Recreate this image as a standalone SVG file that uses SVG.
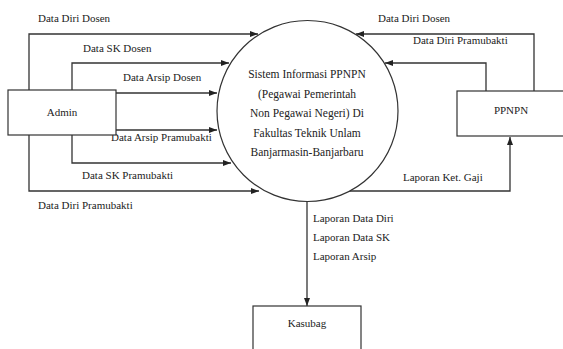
<svg xmlns="http://www.w3.org/2000/svg" width="563" height="349" viewBox="0 0 563 349">
<defs>
<marker id="arr" viewBox="0 0 8 6" refX="8" refY="3" markerWidth="8" markerHeight="6" markerUnits="userSpaceOnUse" orient="auto">
<path d="M0,0 L8,3 L0,6 Z" fill="#222"/>
</marker>
<style>
text{font-family:'Liberation Serif','Times New Roman',Times,serif;font-size:11px;fill:#222}
.c{text-anchor:middle}
.ct{font-size:11.5px;text-anchor:middle}
.n{fill:#fff;stroke:#333;stroke-width:1.2}
.l{fill:none;stroke:#333;stroke-width:1.3}
.a{marker-end:url(#arr)}
</style>
</defs>
<rect width="563" height="349" fill="#fff"/>
<g id="connectors" font-family="Liberation Serif, serif">
<path class="l a" d="M29,90 V34 H258"/>
<path class="l a" d="M29,135 V191 H259"/>
<path class="l a" d="M72,90 V63 H229"/>
<path class="l a" d="M72,135 V163 H231"/>
<path class="l a" d="M116,93 H217"/>
<path class="l a" d="M116,130 H217"/>
<path class="l a" d="M534,91 V34 H356"/>
<path class="l a" d="M486,91 V63 H385"/>
<path class="l a" d="M349,191 H510 V137"/>
<path class="l a" d="M307,202 V306"/>
<text x="38" y="22">Data Diri Dosen</text>
<text x="83" y="52">Data SK Dosen</text>
<text x="123" y="81">Data Arsip Dosen</text>
<text x="111" y="141">Data Arsip Pramubakti</text>
<text x="82" y="179">Data SK Pramubakti</text>
<text x="38" y="209">Data Diri Pramubakti</text>
<text x="378" y="22">Data Diri Dosen</text>
<text x="413" y="44">Data Diri Pramubakti</text>
<text x="403" y="181">Laporan Ket. Gaji</text>
<text x="313" y="222">Laporan Data Diri</text>
<text x="313" y="241">Laporan Data SK</text>
<text x="313" y="260">Laporan Arsip</text>
</g>
<g id="admin">
<rect class="n" x="8" y="90" width="108" height="45"/>
<text class="c" x="62" y="116">Admin</text>
</g>
<g id="sistem">
<circle class="n" cx="307.5" cy="111" r="90.5"/>
<text class="ct" x="307" y="78">Sistem Informasi PPNPN</text>
<text class="ct" x="307" y="97.5">(Pegawai Pemerintah</text>
<text class="ct" x="307" y="117">Non Pegawai Negeri) Di</text>
<text class="ct" x="307" y="136.5">Fakultas Teknik Unlam</text>
<text class="ct" x="307" y="156">Banjarmasin-Banjarbaru</text>
</g>
<g id="ppnpn">
<rect class="n" x="457" y="91" width="120" height="45"/>
<text class="c" x="511" y="114">PPNPN</text>
</g>
<g id="kasubag">
<rect class="n" x="253" y="306" width="108" height="60"/>
<text class="c" x="307" y="327">Kasubag</text>
</g>
</svg>
